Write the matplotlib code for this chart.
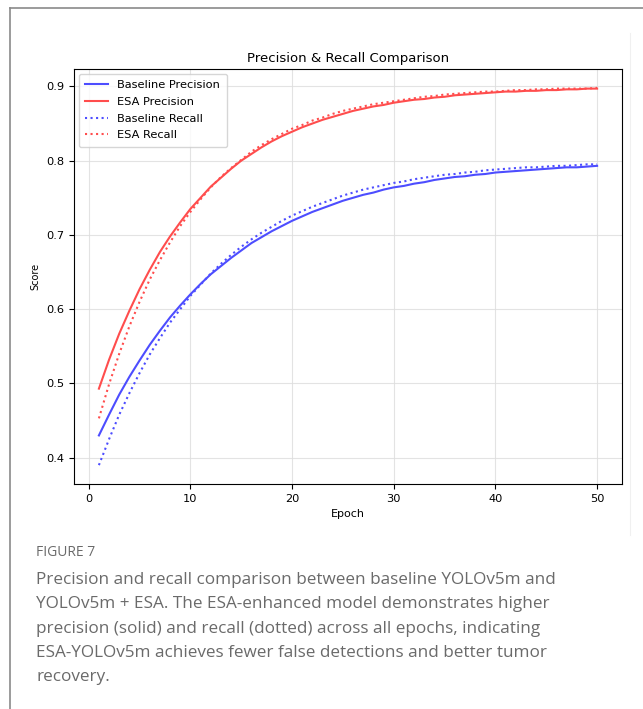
import matplotlib
matplotlib.use("Agg")
import matplotlib.pyplot as plt
from matplotlib.lines import Line2D

epochs = list(range(1, 51))

baseline_precision = [
    0.430, 0.458, 0.485, 0.509, 0.531, 0.552, 0.571, 0.589, 0.605, 0.620,
    0.634, 0.647, 0.658, 0.669, 0.679, 0.689, 0.697, 0.705, 0.712, 0.719,
    0.725, 0.731, 0.736, 0.741, 0.746, 0.750, 0.754, 0.757, 0.761, 0.764,
    0.766, 0.769, 0.771, 0.774, 0.776, 0.778, 0.779, 0.781, 0.782, 0.784,
    0.785, 0.786, 0.787, 0.788, 0.789, 0.790, 0.791, 0.791, 0.792, 0.793]

esa_precision = [
    0.493, 0.532, 0.567, 0.598, 0.627, 0.653, 0.677, 0.698, 0.717, 0.735,
    0.750, 0.765, 0.777, 0.789, 0.800, 0.809, 0.818, 0.826, 0.833, 0.839,
    0.845, 0.850, 0.855, 0.859, 0.863, 0.867, 0.870, 0.873, 0.875, 0.878,
    0.880, 0.882, 0.883, 0.885, 0.886, 0.888, 0.889, 0.890, 0.891, 0.892,
    0.893, 0.893, 0.894, 0.894, 0.895, 0.895, 0.896, 0.896, 0.897, 0.897]

baseline_recall = [
    0.390, 0.425, 0.458, 0.487, 0.514, 0.539, 0.561, 0.582, 0.600, 0.618,
    0.633, 0.648, 0.661, 0.673, 0.684, 0.694, 0.703, 0.711, 0.719, 0.726,
    0.732, 0.738, 0.743, 0.748, 0.753, 0.757, 0.761, 0.764, 0.767, 0.770,
    0.772, 0.775, 0.777, 0.779, 0.781, 0.782, 0.784, 0.785, 0.787, 0.788,
    0.789, 0.790, 0.791, 0.791, 0.792, 0.793, 0.793, 0.794, 0.795, 0.795]

esa_recall = [
    0.453, 0.499, 0.540, 0.577, 0.610, 0.640, 0.666, 0.690, 0.712, 0.731,
    0.748, 0.764, 0.778, 0.790, 0.801, 0.812, 0.821, 0.829, 0.836, 0.843,
    0.848, 0.854, 0.858, 0.863, 0.867, 0.870, 0.873, 0.876, 0.878, 0.880,
    0.882, 0.884, 0.886, 0.887, 0.889, 0.890, 0.891, 0.892, 0.893, 0.893,
    0.894, 0.895, 0.895, 0.896, 0.896, 0.897, 0.897, 0.897, 0.897, 0.898]

series_labels = ["Baseline Precision", "ESA Precision", "Baseline Recall", "ESA Recall"]
x_ticks = [0, 10, 20, 30, 40, 50]
y_ticks = [0.4, 0.5, 0.6, 0.7, 0.8, 0.9]

caption_title = "FIGURE 7"
caption_lines = [
    "Precision and recall comparison between baseline YOLOv5m and",
    "YOLOv5m + ESA. The ESA-enhanced model demonstrates higher",
    "precision (solid) and recall (dotted) across all epochs, indicating",
    "ESA-YOLOv5m achieves fewer false detections and better tumor",
    "recovery.",
]

W, H = 643, 709
fig = plt.figure(figsize=(W / 100, H / 100), dpi=100)
fig.patch.set_facecolor("white")

# outer page frame
fig.add_artist(Line2D([10 / W, 1.0], [1 - 8 / H, 1 - 8 / H], color="#8a8a8a", lw=1.2))
fig.add_artist(Line2D([10 / W, 10 / W], [0.0, 1 - 8 / H], color="#8a8a8a", lw=1.2))
# faint embedded image edge
fig.add_artist(Line2D([630 / W, 630 / W], [1 - 535 / H, 1 - 33 / H], color="#f0f0f0", lw=0.8))

ax = fig.add_axes([74 / W, 1 - 484 / H, (622 - 74) / W, (484 - 69) / H])

blue = "#4d4dff"
red = "#ff4d4d"
ax.plot(epochs, baseline_precision, color=blue, lw=1.5, label=series_labels[0])
ax.plot(epochs, esa_precision, color=red, lw=1.5, label=series_labels[1])
ax.plot(epochs, baseline_recall, color=blue, lw=1.5, ls=":", label=series_labels[2])
ax.plot(epochs, esa_recall, color=red, lw=1.5, ls=":", label=series_labels[3])

ax.set_xticks(x_ticks)
ax.set_yticks(y_ticks)
ax.tick_params(labelsize=8.2)
ax.grid(True, color="#dddddd", lw=0.8, alpha=0.8)
ax.set_title("Precision & Recall Comparison", fontsize=9.5, pad=5)
ax.set_xlabel("Epoch", fontsize=8)
ax.set_ylabel("Score", fontsize=7, labelpad=4)
ax.legend(loc="upper left", fontsize=8.2, frameon=True, handlelength=2.0,
          borderaxespad=0.4, borderpad=0.6, labelspacing=0.58)

fig.text(36 / W, 1 - 552 / H, caption_title, fontsize=10, color="#6a6a6a",
         family="Open Sans", va="center", ha="left")
y0 = 580
for i, line in enumerate(caption_lines):
    fig.text(36 / W, 1 - (y0 + i * 24.3) / H, line, fontsize=12.3, color="#6a6a6a",
             family="Open Sans", va="center", ha="left")

fig.savefig("out.png", dpi=100)
